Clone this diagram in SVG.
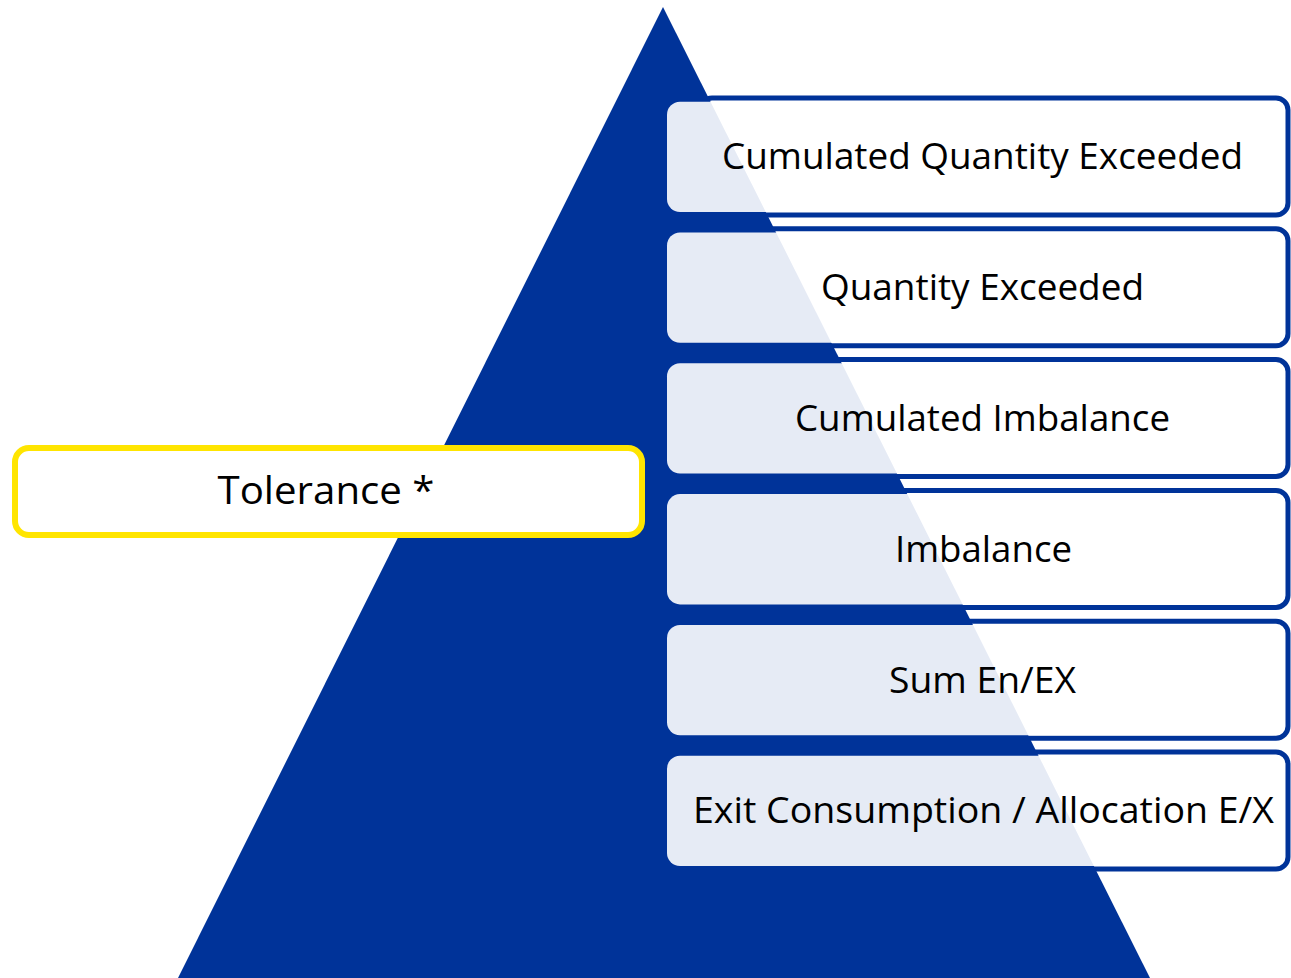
<svg xmlns="http://www.w3.org/2000/svg" width="1291" height="978" viewBox="0 0 1291 978">
<style>
.back{fill:#ffffff;stroke:#003399;stroke-width:5}
.front{fill:#ffffff;fill-opacity:0.9}
.lbl{font-family:"Open Sans","Noto Sans","Liberation Sans",sans-serif;font-size:36px;fill:#000000;text-anchor:middle}
</style>
<rect width="1291" height="978" fill="#ffffff"/>
<g id="backs">
<rect class="back" x="700" y="98" width="588" height="117" rx="12"/>
<rect class="back" x="700" y="228.8" width="588" height="117" rx="12"/>
<rect class="back" x="700" y="359.6" width="588" height="117" rx="12"/>
<rect class="back" x="700" y="490.4" width="588" height="117" rx="12"/>
<rect class="back" x="700" y="621.2" width="588" height="117" rx="12"/>
<rect class="back" x="700" y="752" width="588" height="117" rx="12"/>
</g>
<g id="pyramid">
<polygon points="663,7 178,978 1150,978" fill="#003399"/>
</g>
<g id="connectors"></g>
<g id="node-tolerance">
<rect x="15" y="448" width="627" height="87" rx="14" fill="#ffffff" stroke="#FFE500" stroke-width="6"/>
<text class="lbl" x="326" y="504.3" style="font-size:39px" textLength="217" lengthAdjust="spacingAndGlyphs">Tolerance *</text>
</g>
<g id="node-cumulated-quantity-exceeded">
<rect class="front" x="667" y="101.7" width="618" height="110.3" rx="13"/>
<text class="lbl" x="982.5" y="169.3" textLength="521" lengthAdjust="spacingAndGlyphs">Cumulated Quantity Exceeded</text>
</g>
<g id="node-quantity-exceeded">
<rect class="front" x="667" y="232.5" width="618" height="110.3" rx="13"/>
<text class="lbl" x="982.5" y="300.1" textLength="323" lengthAdjust="spacingAndGlyphs">Quantity Exceeded</text>
</g>
<g id="node-cumulated-imbalance">
<rect class="front" x="667" y="363.3" width="618" height="110.3" rx="13"/>
<text class="lbl" x="982.5" y="430.9" textLength="375" lengthAdjust="spacingAndGlyphs">Cumulated Imbalance</text>
</g>
<g id="node-imbalance">
<rect class="front" x="667" y="494.1" width="618" height="110.3" rx="13"/>
<text class="lbl" x="983.5" y="561.7" textLength="177" lengthAdjust="spacingAndGlyphs">Imbalance</text>
</g>
<g id="node-sum-en-ex">
<rect class="front" x="667" y="624.9" width="618" height="110.3" rx="13"/>
<text class="lbl" x="982.5" y="692.5" textLength="187" lengthAdjust="spacingAndGlyphs">Sum En/EX</text>
</g>
<g id="node-exit-consumption">
<rect class="front" x="667" y="755.7" width="618" height="110.3" rx="13"/>
<text class="lbl" x="983.5" y="823.3" textLength="581" lengthAdjust="spacingAndGlyphs">Exit Consumption / Allocation E/X</text>
</g>
</svg>
